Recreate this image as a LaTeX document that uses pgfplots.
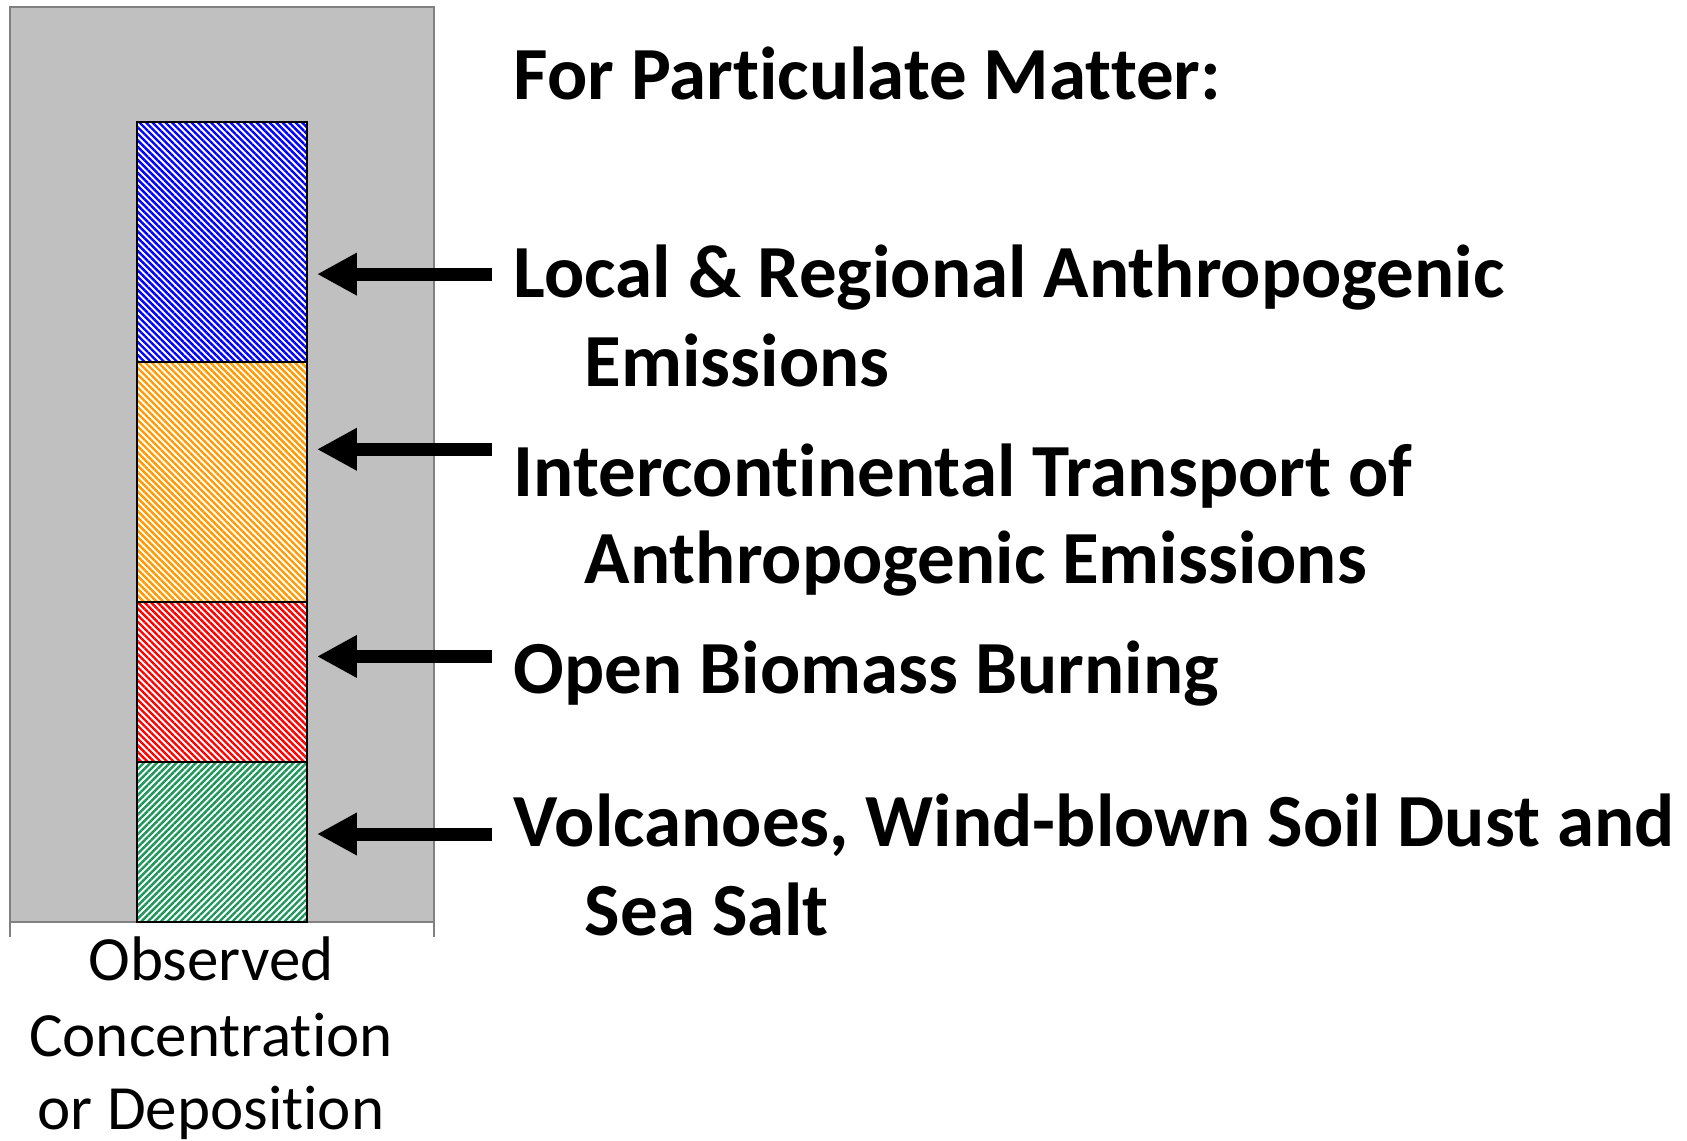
\documentclass[border=0pt]{standalone}
\usepackage{fontspec}
\setmainfont{Carlito}[Ligatures=NoCommon]
\usepackage{pgfplots}
\pgfplotsset{compat=1.18}
\usetikzlibrary{patterns.meta, arrows.meta}
\definecolor{plotgray}{RGB}{192,192,192}
\definecolor{framegray}{RGB}{128,128,128}
\definecolor{hblue}{RGB}{0,0,255}
\definecolor{horange}{RGB}{255,153,0}
\definecolor{hred}{RGB}{255,0,0}
\definecolor{hgreen}{RGB}{30,150,90}
\newcommand{\bigbold}{\bfseries\fontsize{18.75pt}{22pt}\selectfont}
\newcommand{\smallreg}{\fontsize{15.75pt}{19pt}\selectfont}
\tikzset{bigarrow/.style={black, line width=3.25pt, -{Triangle[length=10pt,width=10pt]}}}
\begin{document}
\begin{tikzpicture}[x=0.25pt,y=0.25pt]
\path[use as bounding box] (0,0) rectangle (1687,1141);
\begin{axis}[
  at={(2.5pt,54.75pt)}, anchor=south west,
  scale only axis, width=106pt, height=228.75pt,
  xmin=-0.5, xmax=0.5, ymin=0, ymax=11.44,
  xtick=\empty, ytick=\empty,
  axis background/.style={fill=plotgray},
  axis line style={draw=framegray, line width=0.5pt},
  ybar stacked, bar width=0.4,
  clip=false,
]
\addplot[draw=black, line width=0.5pt, preaction={fill=white},
  pattern={Lines[angle=45,distance=1.15pt,line width=0.6pt]}, pattern color=hgreen]
  coordinates {(0,2)};
\addplot[draw=black, line width=0.5pt, preaction={fill=white},
  pattern={Lines[angle=-45,distance=1.15pt,line width=0.6pt]}, pattern color=hred]
  coordinates {(0,2)};
\addplot[draw=black, line width=0.5pt, preaction={fill=white},
  pattern={Lines[angle=-45,distance=1.15pt,line width=0.6pt]}, pattern color=horange]
  coordinates {(0,3)};
\addplot[draw=black, line width=0.5pt, preaction={fill=white},
  pattern={Lines[angle=-45,distance=1.15pt,line width=0.6pt]}, pattern color=hblue]
  coordinates {(0,3)};
\draw[framegray, line width=0.5pt] (axis cs:-0.5,0) -- ++(0pt,-3.75pt);
\draw[framegray, line width=0.5pt] (axis cs:0.5,0) -- ++(0pt,-3.75pt);
\draw[bigarrow] (axis cs:0.637,8.1) -- (axis cs:0.224,8.1);
\draw[bigarrow] (axis cs:0.637,5.91) -- (axis cs:0.224,5.91);
\draw[bigarrow] (axis cs:0.637,3.32) -- (axis cs:0.224,3.32);
\draw[bigarrow] (axis cs:0.637,1.1) -- (axis cs:0.224,1.1);
\end{axis}
\node[anchor=base west, inner sep=0] at (513,1041) {\bigbold For Particulate Matter:};
\node[anchor=base west, inner sep=0] at (513,843) {\bigbold Local \& Regional Anthropogenic};
\node[anchor=base west, inner sep=0] at (584,754) {\bigbold Emissions};
\node[anchor=base west, inner sep=0] at (513,644) {\bigbold Intercontinental Transport of};
\node[anchor=base west, inner sep=0] at (584,557) {\bigbold Anthropogenic Emissions};
\node[anchor=base west, inner sep=0] at (513,447) {\bigbold Open Biomass Burning};
\node[anchor=base west, inner sep=0] at (513,294) {\bigbold Volcanoes, Wind-blown Soil Dust and};
\node[anchor=base west, inner sep=0] at (584,205) {\bigbold Sea Salt};
\node[anchor=base, inner sep=0] at (211,160) {\smallreg Observed};
\node[anchor=base, inner sep=0] at (211,84) {\smallreg Concentration};
\node[anchor=base, inner sep=0] at (211,11) {\smallreg or Deposition};
\end{tikzpicture}
\end{document}
